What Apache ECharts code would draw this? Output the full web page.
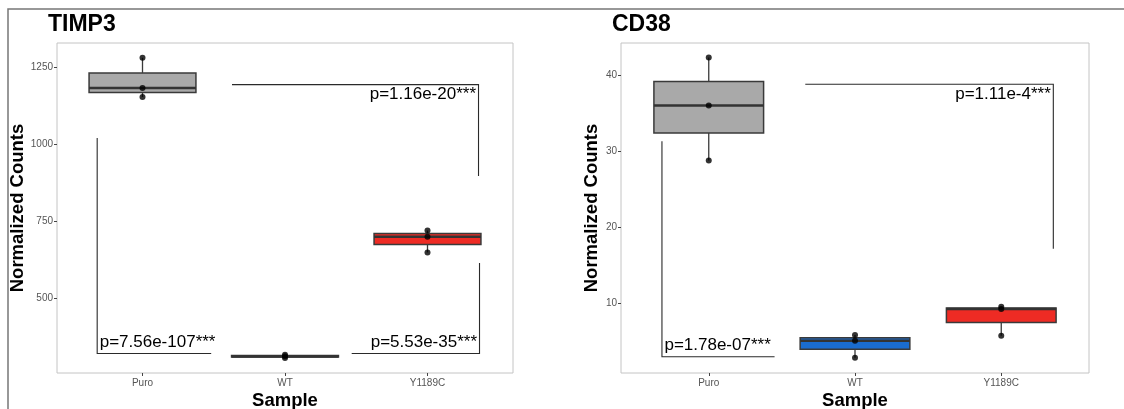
<!DOCTYPE html>
<html><head><meta charset="utf-8">
<script src="https://cdn.jsdelivr.net/npm/echarts@6/dist/echarts.min.js"></script>
<style>html,body{margin:0;padding:0;background:#fff}#c{width:1124px;height:409px}</style>
</head><body><div id="c"></div>
<script>
// ---- data ----
const samples = ['Puro', 'WT', 'Y1189C'];
const timp3Values = [[1281, 1183, 1154], [308, 313, 318], [721, 701, 650]];
const cd38Values = [[42.3, 36.0, 28.8], [5.9, 5.15, 2.9], [9.6, 9.3, 5.8]];
const timp3Ticks = [500, 750, 1000, 1250];
const cd38Ticks = [10, 20, 30, 40];
const timp3Range = [259, 1329];
const cd38Range = [0.91, 44.2];
// comparison brackets: path in (sample position, value) and the p-value label
const timp3Brackets = [
  { path: [[0.628, 1194], [2.358, 1194], [2.358, 898]], text: 'p=1.16e-20***', kind: 'topRight' },
  { path: [[-0.318, 1021], [-0.318, 322], [0.482, 322]], text: 'p=7.56e-107***', kind: 'bottomLeft' },
  { path: [[1.468, 322], [2.365, 322], [2.365, 616]], text: 'p=5.53e-35***', kind: 'bottomRight' }
];
const cd38Brackets = [
  { path: [[0.66, 38.78], [2.356, 38.78], [2.356, 17.2]], text: 'p=1.11e-4***', kind: 'topRight' },
  { path: [[-0.32, 31.3], [-0.32, 3.04], [0.45, 3.04]], text: 'p=1.78e-07***', kind: 'bottomLeft' }
];

// ---- styles ----
const fills = ['#A9A9A9', '#1A6CCF', '#EE2B24'];
const FONT = '"Liberation Sans", Arial, sans-serif';

function quant(arr, p) {
  const s = [...arr].sort((a, b) => a - b);
  const h = (s.length - 1) * p, lo = Math.floor(h);
  const hi = Math.min(lo + 1, s.length - 1);
  return s[lo] + (h - lo) * (s[hi] - s[lo]);
}
function boxData(values) {
  return values.map((v, i) => [i, Math.min(...v), quant(v, 0.25), quant(v, 0.5), quant(v, 0.75), Math.max(...v)]);
}
function pointData(values) {
  const out = [];
  values.forEach((v, i) => v.forEach(y => out.push([i, y])));
  return out;
}
function renderBox(params, api) {
  const i = api.value(0);
  const lo = api.value(1), q1 = api.value(2), md = api.value(3), q3 = api.value(4), hi = api.value(5);
  const hw = 0.375;
  const xl = api.coord([i - hw, q3])[0], xr = api.coord([i + hw, q3])[0];
  const cx = api.coord([i, q3])[0];
  const y = v => api.coord([i, v])[1];
  return { type: 'group', children: [
    { type: 'line', shape: { x1: cx, y1: y(hi), x2: cx, y2: y(q3) }, style: { stroke: '#3a3a3a', lineWidth: 1.3 } },
    { type: 'line', shape: { x1: cx, y1: y(q1), x2: cx, y2: y(lo) }, style: { stroke: '#3a3a3a', lineWidth: 1.3 } },
    { type: 'rect', shape: { x: xl, y: y(q3), width: xr - xl, height: y(q1) - y(q3) }, style: { fill: fills[i], stroke: '#3a3a3a', lineWidth: 1.5 } },
    { type: 'line', shape: { x1: xl, y1: y(md), x2: xr, y2: y(md) }, style: { stroke: '#333', lineWidth: 2.6 } }
  ]};
}
function makeBracketRenderer(brackets) {
  return function (params, api) {
    const b = brackets[params.dataIndex];
    const pts = b.path.map(p => api.coord(p));
    const corner = pts[1];
    let tx, ty, align, va;
    if (b.kind === 'topRight') { tx = corner[0] - 2.5; ty = corner[1] + 1; align = 'right'; va = 'top'; }
    else if (b.kind === 'bottomLeft') { tx = corner[0] + 2.5; ty = corner[1] - 3; align = 'left'; va = 'bottom'; }
    else { tx = pts[1][0] - 2.5; ty = corner[1] - 3; align = 'right'; va = 'bottom'; }
    return { type: 'group', children: [
      { type: 'polyline', shape: { points: pts }, style: { stroke: '#2a2a2a', lineWidth: 1.1, fill: null } },
      { type: 'text', x: tx, y: ty, style: { text: b.text, align: align, verticalAlign: va, font: '17px ' + FONT, fill: '#000' } }
    ]};
  };
}

function xAxisCfg(gi) {
  return {
    type: 'value', gridIndex: gi, min: -0.6, max: 2.6,
    splitLine: { show: false }, axisLine: { show: false, onZero: false },
    axisTick: { show: true, customValues: [0, 1, 2], length: 3, lineStyle: { color: '#444', width: 1 } },
    axisLabel: { customValues: [0, 1, 2], formatter: v => samples[Math.round(v)], color: '#555', fontSize: 10, fontFamily: FONT, margin: 5 }
  };
}
function yAxisCfg(gi, range, ticks) {
  return {
    type: 'value', gridIndex: gi, min: range[0], max: range[1],
    splitLine: { show: false }, axisLine: { show: false, onZero: false },
    axisTick: { show: true, customValues: ticks, length: 3, lineStyle: { color: '#444', width: 1 } },
    axisLabel: { customValues: ticks, formatter: v => String(v), color: '#555', fontSize: 10, fontFamily: FONT, margin: 4 }
  };
}

const chart = echarts.init(document.getElementById('c'), null, { renderer: 'canvas' });
chart.setOption({
  animation: false,
  backgroundColor: '#fff',
  grid: [
    { left: 57, right: 1124 - 513, top: 43, bottom: 409 - 373, show: true, borderColor: '#c4c4c4', borderWidth: 1, backgroundColor: 'transparent' },
    { left: 621, right: 1124 - 1089, top: 43, bottom: 409 - 373, show: true, borderColor: '#c4c4c4', borderWidth: 1, backgroundColor: 'transparent' }
  ],
  xAxis: [xAxisCfg(0), xAxisCfg(1)],
  yAxis: [yAxisCfg(0, timp3Range, timp3Ticks), yAxisCfg(1, cd38Range, cd38Ticks)],
  graphic: [
    { type: 'rect', shape: { x: 8, y: 9, width: 1140, height: 430 }, style: { fill: null, stroke: '#777', lineWidth: 1.5 }, silent: true },
    { type: 'text', x: 48, y: 25, style: { text: 'TIMP3', font: 'bold 23px ' + FONT, fill: '#000', verticalAlign: 'middle' } },
    { type: 'text', x: 612, y: 25, style: { text: 'CD38', font: 'bold 23px ' + FONT, fill: '#000', verticalAlign: 'middle' } },
    { type: 'text', x: 18, y: 208, rotation: Math.PI / 2, style: { text: 'Normalized Counts', font: 'bold 18.5px ' + FONT, fill: '#000', align: 'center', verticalAlign: 'middle' } },
    { type: 'text', x: 592, y: 208, rotation: Math.PI / 2, style: { text: 'Normalized Counts', font: 'bold 18.5px ' + FONT, fill: '#000', align: 'center', verticalAlign: 'middle' } },
    { type: 'text', x: 285, y: 401, style: { text: 'Sample', font: 'bold 18.5px ' + FONT, fill: '#000', align: 'center', verticalAlign: 'middle' } },
    { type: 'text', x: 855, y: 401, style: { text: 'Sample', font: 'bold 18.5px ' + FONT, fill: '#000', align: 'center', verticalAlign: 'middle' } }
  ],
  series: [
    { type: 'custom', xAxisIndex: 0, yAxisIndex: 0, data: boxData(timp3Values), renderItem: renderBox, clip: false, z: 2 },
    { type: 'scatter', xAxisIndex: 0, yAxisIndex: 0, data: pointData(timp3Values), symbolSize: 6, itemStyle: { color: '#000' }, z: 3 },
    { type: 'custom', xAxisIndex: 0, yAxisIndex: 0, data: timp3Brackets.map((b, k) => [k]), renderItem: makeBracketRenderer(timp3Brackets), clip: false, z: 4 },
    { type: 'custom', xAxisIndex: 1, yAxisIndex: 1, data: boxData(cd38Values), renderItem: renderBox, clip: false, z: 2 },
    { type: 'scatter', xAxisIndex: 1, yAxisIndex: 1, data: pointData(cd38Values), symbolSize: 6, itemStyle: { color: '#000' }, z: 3 },
    { type: 'custom', xAxisIndex: 1, yAxisIndex: 1, data: cd38Brackets.map((b, k) => [k]), renderItem: makeBracketRenderer(cd38Brackets), clip: false, z: 4 }
  ]
});
</script>
</body></html>
